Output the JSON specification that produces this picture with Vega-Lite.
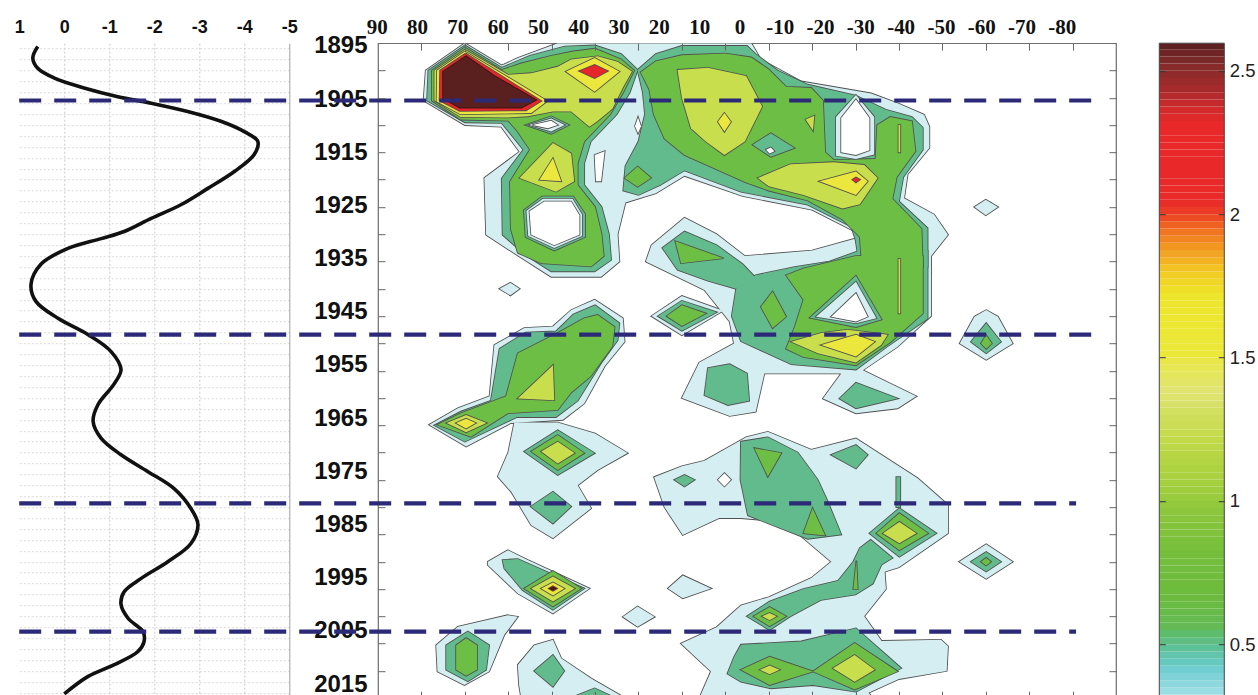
{
"$schema":"https://vega.github.io/schema/vega-lite/v6.json",
"padding":{"left":13.3,"top":15.2,"right":0,"bottom":0},
"config":{"axis":{"labelFont":"Liberation Sans"}},
"datasets":{
"s1":[
{"p":"c1a","lon":70,"yr":1895},{"p":"c1a","lon":61.5,"yr":1899.1},{"p":"c1a","lon":57.8,"yr":1897.7},{"p":"c1a","lon":48.6,"yr":1895},{"p":"c1a","lon":4,"yr":1895},{"p":"c1a","lon":1.8,"yr":1898},{"p":"c1a","lon":-7.5,"yr":1902},{"p":"c1a","lon":-23.6,"yr":1904.2},{"p":"c1a","lon":-29.7,"yr":1906},{"p":"c1a","lon":-35.8,"yr":1908.1},{"p":"c1a","lon":-37,"yr":1910.3},{"p":"c1a","lon":-37,"yr":1914.2},{"p":"c1a","lon":-32,"yr":1919},{"p":"c1a","lon":-31.2,"yr":1923.4},{"p":"c1a","lon":-38.1,"yr":1926.4},{"p":"c1a","lon":-41.3,"yr":1930.1},{"p":"c1a","lon":-37.4,"yr":1934},{"p":"c1a","lon":-37.4,"yr":1937},{"p":"c1a","lon":-25,"yr":1937},{"p":"c1a","lon":-23.6,"yr":1931},{"p":"c1a","lon":-10,"yr":1925.5},{"p":"c1a","lon":6,"yr":1923},{"p":"c1a","lon":19.4,"yr":1919.3},{"p":"c1a","lon":26,"yr":1922.5},{"p":"c1a","lon":33,"yr":1924.2},{"p":"c1a","lon":34.8,"yr":1930},{"p":"c1a","lon":34.4,"yr":1935},{"p":"c1a","lon":38.6,"yr":1937.8},{"p":"c1a","lon":50.1,"yr":1937.8},{"p":"c1a","lon":57.4,"yr":1934.1},{"p":"c1a","lon":65.1,"yr":1930.1},{"p":"c1a","lon":65.5,"yr":1919.7},{"p":"c1a","lon":57.4,"yr":1914.9},{"p":"c1a","lon":61.6,"yr":1910.3},{"p":"c1a","lon":70,"yr":1910},{"p":"c1a","lon":79.5,"yr":1905.5},{"p":"c1a","lon":79,"yr":1900},
{"p":"c1b","lon":28.3,"yr":1935},{"p":"c1b","lon":27,"yr":1932},{"p":"c1b","lon":19.4,"yr":1927},{"p":"c1b","lon":12,"yr":1930},{"p":"c1b","lon":5.5,"yr":1934},{"p":"c1b","lon":-10,"yr":1933},{"p":"c1b","lon":-23.6,"yr":1930},{"p":"c1b","lon":-37.4,"yr":1933},{"p":"c1b","lon":-37.4,"yr":1945},{"p":"c1b","lon":-29.7,"yr":1950.6},{"p":"c1b","lon":-21.7,"yr":1954.9},{"p":"c1b","lon":-34,"yr":1959.7},{"p":"c1b","lon":-29.7,"yr":1961.9},{"p":"c1b","lon":-20.1,"yr":1962.8},{"p":"c1b","lon":-12.5,"yr":1960.1},{"p":"c1b","lon":-16.7,"yr":1955.5},{"p":"c1b","lon":1,"yr":1955.5},{"p":"c1b","lon":3,"yr":1962.5},{"p":"c1b","lon":9,"yr":1963.3},{"p":"c1b","lon":20,"yr":1960},{"p":"c1b","lon":16,"yr":1953.5},{"p":"c1b","lon":8,"yr":1950},{"p":"c1b","lon":9,"yr":1946},{"p":"c1b","lon":14.8,"yr":1940.2},
{"p":"c1c","lon":27,"yr":1945},{"p":"c1c","lon":20,"yr":1941.3},{"p":"c1c","lon":10.5,"yr":1944},{"p":"c1c","lon":20,"yr":1948.5},
{"p":"c1d","lon":62,"yr":1940},{"p":"c1d","lon":59.5,"yr":1938.9},{"p":"c1d","lon":57.4,"yr":1940},{"p":"c1d","lon":59.5,"yr":1941.2},
{"p":"c1e","lon":-47.4,"yr":1925},{"p":"c1e","lon":-50,"yr":1923.7},{"p":"c1e","lon":-52.8,"yr":1925},{"p":"c1e","lon":-50,"yr":1926.5},
{"p":"c2a","lon":40.1,"yr":1942},{"p":"c2a","lon":33.6,"yr":1945.4},{"p":"c2a","lon":33.2,"yr":1949.7},{"p":"c2a","lon":37.8,"yr":1954.2},{"p":"c2a","lon":42.5,"yr":1961},{"p":"c2a","lon":47.4,"yr":1964},{"p":"c2a","lon":59.4,"yr":1964.6},{"p":"c2a","lon":69.7,"yr":1968.9},{"p":"c2a","lon":78.2,"yr":1964.9},{"p":"c2a","lon":71.6,"yr":1961.9},{"p":"c2a","lon":64.3,"yr":1959.7},{"p":"c2a","lon":63.2,"yr":1950.3},{"p":"c2a","lon":56.3,"yr":1947.2},{"p":"c2a","lon":49.7,"yr":1946.9},{"p":"c2a","lon":45.5,"yr":1943.9},
{"p":"c2b","lon":58.6,"yr":1964.5},{"p":"c2b","lon":48.6,"yr":1964.5},{"p":"c2b","lon":40,"yr":1966.5},{"p":"c2b","lon":32.5,"yr":1970.1},{"p":"c2b","lon":39.4,"yr":1973.2},{"p":"c2b","lon":44,"yr":1976},{"p":"c2b","lon":40.9,"yr":1980.2},{"p":"c2b","lon":49.7,"yr":1985.7},{"p":"c2b","lon":54.7,"yr":1983.3},{"p":"c2b","lon":59.3,"yr":1977.2},{"p":"c2b","lon":62.4,"yr":1974.4},{"p":"c2b","lon":60,"yr":1970},
{"p":"c3a","lon":64.7,"yr":1990},{"p":"c3a","lon":60.1,"yr":1987.9},{"p":"c3a","lon":55.5,"yr":1989.7},{"p":"c3a","lon":41.3,"yr":1994.9},{"p":"c3a","lon":49.7,"yr":1999.5},{"p":"c3a","lon":57.8,"yr":1995.8},{"p":"c3a","lon":64.7,"yr":1990.6},
{"p":"c3b","lon":33.6,"yr":2000.1},{"p":"c3b","lon":30.2,"yr":1998.2},{"p":"c3b","lon":26.3,"yr":2000.1},{"p":"c3b","lon":30.2,"yr":2001.9},
{"p":"c3c","lon":23.2,"yr":1994.9},{"p":"c3c","lon":19.8,"yr":1992.5},{"p":"c3c","lon":13.3,"yr":1994.9},{"p":"c3c","lon":19.8,"yr":1996.7},
{"p":"c3d","lon":76.6,"yr":2005.3},{"p":"c3d","lon":71.6,"yr":2001.9},{"p":"c3d","lon":60.1,"yr":1999.8},{"p":"c3d","lon":57.8,"yr":2000.1},{"p":"c3d","lon":60.9,"yr":2003.4},{"p":"c3d","lon":64.4,"yr":2010.1},{"p":"c3d","lon":70.1,"yr":2012.6},{"p":"c3d","lon":76.3,"yr":2010.1},
{"p":"c3e","lon":57.8,"yr":2008.9},{"p":"c3e","lon":54,"yr":2005.3},{"p":"c3e","lon":49.7,"yr":2004.3},{"p":"c3e","lon":47.8,"yr":2007.7},{"p":"c3e","lon":40.9,"yr":2011.4},{"p":"c3e","lon":33,"yr":2015},{"p":"c3e","lon":57,"yr":2015},{"p":"c3e","lon":57.5,"yr":2012.6},
{"p":"c4","lon":26.4,"yr":1974.5},{"p":"c4","lon":20,"yr":1972.5},{"p":"c4","lon":14.8,"yr":1971.5},{"p":"c4","lon":5.2,"yr":1967.2},{"p":"c4","lon":0.2,"yr":1966.2},{"p":"c4","lon":-9.8,"yr":1969.5},{"p":"c4","lon":-20.1,"yr":1967.4},{"p":"c4","lon":-34.3,"yr":1974.7},{"p":"c4","lon":-41.3,"yr":1979.6},{"p":"c4","lon":-41.3,"yr":1984.8},{"p":"c4","lon":-30,"yr":1991},{"p":"c4","lon":-26,"yr":1992},{"p":"c4","lon":-14.4,"yr":1990},{"p":"c4","lon":-3.6,"yr":1982.7},{"p":"c4","lon":6.4,"yr":1982},{"p":"c4","lon":11.4,"yr":1982},{"p":"c4","lon":19.8,"yr":1985.1},{"p":"c4","lon":24,"yr":1980},
{"p":"c5","lon":-14.4,"yr":1990},{"p":"c5","lon":-26.5,"yr":1989.5},{"p":"c5","lon":-27,"yr":1995},{"p":"c5","lon":-22,"yr":2000},{"p":"c5","lon":-26,"yr":2004.5},{"p":"c5","lon":-39.7,"yr":2004.3},{"p":"c5","lon":-41.3,"yr":2005.5},{"p":"c5","lon":-41,"yr":2010},{"p":"c5","lon":-30,"yr":2011.5},{"p":"c5","lon":-23,"yr":2014},{"p":"c5","lon":-24,"yr":2015},{"p":"c5","lon":16,"yr":2015},{"p":"c5","lon":13.3,"yr":2010.1},{"p":"c5","lon":20.2,"yr":2005},{"p":"c5","lon":12,"yr":2002},{"p":"c5","lon":6.4,"yr":1998},{"p":"c5","lon":0,"yr":1996.5},{"p":"c5","lon":-9.8,"yr":1993},
{"p":"c6","lon":-44,"yr":1950},{"p":"c6","lon":-47.4,"yr":1945.1},{"p":"c6","lon":-50.1,"yr":1943.9},{"p":"c6","lon":-52.8,"yr":1945.1},{"p":"c6","lon":-56.2,"yr":1950},{"p":"c6","lon":-50.1,"yr":1953},
{"p":"c7","lon":-43.9,"yr":1990},{"p":"c7","lon":-50.1,"yr":1986.8},{"p":"c7","lon":-56.2,"yr":1990},{"p":"c7","lon":-50.1,"yr":1993.1}
],
"s2":[
{"p":"t1a","lon":70,"yr":1895.4},{"p":"t1a","lon":78.4,"yr":1900},{"p":"t1a","lon":78.7,"yr":1905.5},{"p":"t1a","lon":70,"yr":1909.5},{"p":"t1a","lon":61.5,"yr":1909.6},{"p":"t1a","lon":56.5,"yr":1914.5},{"p":"t1a","lon":61.5,"yr":1919.8},{"p":"t1a","lon":61.3,"yr":1930.1},{"p":"t1a","lon":56,"yr":1933.8},{"p":"t1a","lon":50.1,"yr":1936.8},{"p":"t1a","lon":40.1,"yr":1936.8},{"p":"t1a","lon":36.3,"yr":1934.7},{"p":"t1a","lon":36.8,"yr":1930},{"p":"t1a","lon":38.5,"yr":1925},{"p":"t1a","lon":42.5,"yr":1921},{"p":"t1a","lon":42.5,"yr":1917},{"p":"t1a","lon":41,"yr":1913},{"p":"t1a","lon":35,"yr":1908},{"p":"t1a","lon":32,"yr":1904},{"p":"t1a","lon":30.2,"yr":1899.9},{"p":"t1a","lon":34,"yr":1897},{"p":"t1a","lon":40,"yr":1895.4},{"p":"t1a","lon":47,"yr":1895.6},{"p":"t1a","lon":55,"yr":1897.3},{"p":"t1a","lon":61.5,"yr":1899.5},
{"p":"t1b","lon":30.2,"yr":1899.9},{"p":"t1b","lon":26,"yr":1897},{"p":"t1b","lon":20,"yr":1895.5},{"p":"t1b","lon":5,"yr":1895.5},{"p":"t1b","lon":3,"yr":1897},{"p":"t1b","lon":-2,"yr":1900},{"p":"t1b","lon":-9,"yr":1902.6},{"p":"t1b","lon":-20,"yr":1904.6},{"p":"t1b","lon":-27,"yr":1907.2},{"p":"t1b","lon":-33,"yr":1908.5},{"p":"t1b","lon":-35.5,"yr":1910.5},{"p":"t1b","lon":-35.5,"yr":1914.5},{"p":"t1b","lon":-31,"yr":1919.5},{"p":"t1b","lon":-30,"yr":1924},{"p":"t1b","lon":-36.6,"yr":1928.9},{"p":"t1b","lon":-36.6,"yr":1936},{"p":"t1b","lon":-21,"yr":1936},{"p":"t1b","lon":-20,"yr":1931},{"p":"t1b","lon":-19,"yr":1928.6},{"p":"t1b","lon":-9,"yr":1924.6},{"p":"t1b","lon":6.4,"yr":1922.2},{"p":"t1b","lon":19.4,"yr":1918.3},{"p":"t1b","lon":25,"yr":1921},{"p":"t1b","lon":30,"yr":1922.8},{"p":"t1b","lon":33.5,"yr":1922},{"p":"t1b","lon":33,"yr":1917.5},{"p":"t1b","lon":30,"yr":1913},{"p":"t1b","lon":28.5,"yr":1908},{"p":"t1b","lon":29,"yr":1904},
{"p":"tm","lon":7.5,"yr":1940},{"p":"tm","lon":3,"yr":1937.5},{"p":"tm","lon":-6,"yr":1936},{"p":"tm","lon":-14,"yr":1935},{"p":"tm","lon":-21,"yr":1933},{"p":"tm","lon":-36.6,"yr":1933},{"p":"tm","lon":-36.6,"yr":1945.5},{"p":"tm","lon":-27.4,"yr":1950.5},{"p":"tm","lon":-20.1,"yr":1954.8},{"p":"tm","lon":-5.2,"yr":1953.8},{"p":"tm","lon":6.4,"yr":1949.6},{"p":"tm","lon":8.5,"yr":1945},
{"p":"tlobe","lon":14,"yr":1954.5},{"p":"tlobe","lon":9,"yr":1953.8},{"p":"tlobe","lon":5,"yr":1955.5},{"p":"tlobe","lon":4.5,"yr":1960.5},{"p":"tlobe","lon":9.4,"yr":1961.3},{"p":"tlobe","lon":14.8,"yr":1959.5},
{"p":"tsmall","lon":-16.3,"yr":1960.1},{"p":"tsmall","lon":-20.1,"yr":1957.2},{"p":"tsmall","lon":-29.7,"yr":1960.1},{"p":"tsmall","lon":-20.1,"yr":1961.9},
{"p":"tl","lon":24.5,"yr":1932.5},{"p":"tl","lon":19.4,"yr":1929.5},{"p":"tl","lon":12,"yr":1932},{"p":"tl","lon":6,"yr":1935.5},{"p":"tl","lon":3,"yr":1938},{"p":"tl","lon":7.5,"yr":1940},{"p":"tl","lon":14,"yr":1938.5},{"p":"tl","lon":21,"yr":1936.5},
{"p":"tc1c","lon":25.5,"yr":1945},{"p":"tc1c","lon":20,"yr":1942.2},{"p":"tc1c","lon":12,"yr":1944.3},{"p":"tc1c","lon":20,"yr":1947.7},
{"p":"t2a","lon":40,"yr":1943},{"p":"t2a","lon":34.4,"yr":1946.3},{"p":"t2a","lon":34.8,"yr":1949.4},{"p":"t2a","lon":38.6,"yr":1953.6},{"p":"t2a","lon":44,"yr":1960.5},{"p":"t2a","lon":49,"yr":1963.5},{"p":"t2a","lon":58,"yr":1963.5},{"p":"t2a","lon":70,"yr":1968},{"p":"t2a","lon":77,"yr":1965},{"p":"t2a","lon":70.9,"yr":1962.5},{"p":"t2a","lon":64,"yr":1960.5},{"p":"t2a","lon":62,"yr":1951},{"p":"t2a","lon":56,"yr":1948},{"p":"t2a","lon":49,"yr":1947.8},{"p":"t2a","lon":45,"yr":1944.7},
{"p":"t2d","lon":56.3,"yr":1969.8},{"p":"t2d","lon":48.6,"yr":1965.9},{"p":"t2d","lon":40.1,"yr":1970.1},{"p":"t2d","lon":48.6,"yr":1974.1},
{"p":"t2e","lon":54.8,"yr":1979.9},{"p":"t2e","lon":49.7,"yr":1977.2},{"p":"t2e","lon":45.5,"yr":1979.9},{"p":"t2e","lon":49.7,"yr":1983},
{"p":"t3a","lon":61.3,"yr":1989.7},{"p":"t3a","lon":57.8,"yr":1989.5},{"p":"t3a","lon":42.5,"yr":1994.9},{"p":"t3a","lon":49.7,"yr":1998.8},{"p":"t3a","lon":56.7,"yr":1995.2},{"p":"t3a","lon":60.9,"yr":1991.2},
{"p":"t3d","lon":74.3,"yr":2005.3},{"p":"t3d","lon":69.3,"yr":2002.8},{"p":"t3d","lon":64.4,"yr":2005.3},{"p":"t3d","lon":65.1,"yr":2009.8},{"p":"t3d","lon":69.3,"yr":2011.9},{"p":"t3d","lon":74.3,"yr":2009.8},
{"p":"t3e","lon":54,"yr":2010},{"p":"t3e","lon":49.7,"yr":2007.1},{"p":"t3e","lon":47.1,"yr":2010},{"p":"t3e","lon":49.7,"yr":2012.9},
{"p":"t3f","lon":45.5,"yr":2015},{"p":"t3f","lon":44.8,"yr":2014.7},{"p":"t3f","lon":40.1,"yr":2013.2},{"p":"t3f","lon":36.3,"yr":2014.6},{"p":"t3f","lon":35.5,"yr":2015},
{"p":"t4","lon":6.4,"yr":1968},{"p":"t4","lon":0.2,"yr":1967.2},{"p":"t4","lon":-6.7,"yr":1970},{"p":"t4","lon":-11.3,"yr":1975},{"p":"t4","lon":-13.6,"yr":1979},{"p":"t4","lon":-16.7,"yr":1985},{"p":"t4","lon":-9,"yr":1985.8},{"p":"t4","lon":4.8,"yr":1981.5},{"p":"t4","lon":6.5,"yr":1975},
{"p":"t4b","lon":21.7,"yr":1975},{"p":"t4b","lon":19.4,"yr":1974.1},{"p":"t4b","lon":17.1,"yr":1975},{"p":"t4b","lon":19.4,"yr":1976.2},
{"p":"t4c","lon":-14.4,"yr":1970.4},{"p":"t4c","lon":-20.1,"yr":1968.6},{"p":"t4c","lon":-22.8,"yr":1970.4},{"p":"t4c","lon":-20.1,"yr":1972.9},
{"p":"t4d","lon":-29.4,"yr":1974.5},{"p":"t4d","lon":-30.3,"yr":1974.5},{"p":"t4d","lon":-30.3,"yr":1980},{"p":"t4d","lon":-29.4,"yr":1980},
{"p":"tdia","lon":-23.2,"yr":1984.8},{"p":"tdia","lon":-30.1,"yr":1980.2},{"p":"tdia","lon":-38.6,"yr":1984.8},{"p":"tdia","lon":-30.1,"yr":1989.1},
{"p":"t5a","lon":-23.5,"yr":1986},{"p":"t5a","lon":-28.5,"yr":1989.3},{"p":"t5a","lon":-26,"yr":1990.5},{"p":"t5a","lon":-24,"yr":1994},{"p":"t5a","lon":-20,"yr":1996},{"p":"t5a","lon":-12,"yr":1997},{"p":"t5a","lon":-5,"yr":2000},{"p":"t5a","lon":-0.2,"yr":2002.5},{"p":"t5a","lon":5,"yr":2000},{"p":"t5a","lon":-0.2,"yr":1997.3},{"p":"t5a","lon":-8,"yr":1995},{"p":"t5a","lon":-16,"yr":1993.5},{"p":"t5a","lon":-19.5,"yr":1990},{"p":"t5a","lon":-21,"yr":1987.5},
{"p":"t5c","lon":6.4,"yr":2005.2},{"p":"t5c","lon":-7.5,"yr":2004.6},{"p":"t5c","lon":-20.1,"yr":2002.2},{"p":"t5c","lon":-30.5,"yr":2009.5},{"p":"t5c","lon":-20.1,"yr":2013.8},{"p":"t5c","lon":-10.2,"yr":2012.6},{"p":"t5c","lon":-0.5,"yr":2013.2},{"p":"t5c","lon":6.4,"yr":2012},{"p":"t5c","lon":9.5,"yr":2010.5},{"p":"t5c","lon":8,"yr":2007.5},
{"p":"t6","lon":-46.6,"yr":1949.7},{"p":"t6","lon":-50.1,"yr":1946.3},{"p":"t6","lon":-53.5,"yr":1949.7},{"p":"t6","lon":-50.1,"yr":1951.8},
{"p":"t7","lon":-46.6,"yr":1990},{"p":"t7","lon":-50.1,"yr":1988.2},{"p":"t7","lon":-53.5,"yr":1990},{"p":"t7","lon":-50.1,"yr":1991.8}
],
"s3":[
{"p":"g1a","lon":70,"yr":1895.8},{"p":"g1a","lon":61.5,"yr":1899.9},{"p":"g1a","lon":57,"yr":1898.7},{"p":"g1a","lon":50,"yr":1897.3},{"p":"g1a","lon":45,"yr":1896.5},{"p":"g1a","lon":40,"yr":1896},{"p":"g1a","lon":34,"yr":1898},{"p":"g1a","lon":31,"yr":1900},{"p":"g1a","lon":33.5,"yr":1904},{"p":"g1a","lon":36.5,"yr":1908},{"p":"g1a","lon":42.5,"yr":1913},{"p":"g1a","lon":44,"yr":1917},{"p":"g1a","lon":44,"yr":1921},{"p":"g1a","lon":40,"yr":1925},{"p":"g1a","lon":38.5,"yr":1930},{"p":"g1a","lon":38,"yr":1934},{"p":"g1a","lon":40.9,"yr":1935.9},{"p":"g1a","lon":52.4,"yr":1935.3},{"p":"g1a","lon":57.8,"yr":1933.4},{"p":"g1a","lon":59.4,"yr":1929},{"p":"g1a","lon":59.6,"yr":1920.4},{"p":"g1a","lon":55,"yr":1914.5},{"p":"g1a","lon":58,"yr":1911},{"p":"g1a","lon":60,"yr":1909.2},{"p":"g1a","lon":71,"yr":1909},{"p":"g1a","lon":77.6,"yr":1905.5},{"p":"g1a","lon":77.6,"yr":1900},
{"p":"g1b","lon":29.5,"yr":1900.3},{"p":"g1b","lon":26,"yr":1898.3},{"p":"g1b","lon":20,"yr":1897.2},{"p":"g1b","lon":10,"yr":1896.9},{"p":"g1b","lon":4,"yr":1897.6},{"p":"g1b","lon":0,"yr":1899.8},{"p":"g1b","lon":-4,"yr":1903},{"p":"g1b","lon":-9.8,"yr":1903.2},{"p":"g1b","lon":-12.5,"yr":1905.5},{"p":"g1b","lon":-13,"yr":1915},{"p":"g1b","lon":-15,"yr":1916.4},{"p":"g1b","lon":-24.6,"yr":1916.2},{"p":"g1b","lon":-25,"yr":1910},{"p":"g1b","lon":-28,"yr":1908.5},{"p":"g1b","lon":-33,"yr":1909.3},{"p":"g1b","lon":-33.8,"yr":1914.8},{"p":"g1b","lon":-29.5,"yr":1919.5},{"p":"g1b","lon":-28.5,"yr":1923.5},{"p":"g1b","lon":-35.2,"yr":1929},{"p":"g1b","lon":-35.5,"yr":1936},{"p":"g1b","lon":-21.5,"yr":1936},{"p":"g1b","lon":-21,"yr":1930.5},{"p":"g1b","lon":-17,"yr":1927.3},{"p":"g1b","lon":-9,"yr":1923.8},{"p":"g1b","lon":0,"yr":1922},{"p":"g1b","lon":5.2,"yr":1920.5},{"p":"g1b","lon":19.4,"yr":1915.5},{"p":"g1b","lon":24,"yr":1912.5},{"p":"g1b","lon":26.5,"yr":1908},{"p":"g1b","lon":27.5,"yr":1903.5},
{"p":"gsd","lon":33.2,"yr":1919.7},{"p":"gsd","lon":30.2,"yr":1917.6},{"p":"gsd","lon":27.1,"yr":1919.7},{"p":"gsd","lon":30.2,"yr":1921.3},
{"p":"gm","lon":-4,"yr":1937.5},{"p":"gm","lon":-8,"yr":1936.3},{"p":"gm","lon":-20,"yr":1934},{"p":"gm","lon":-35.5,"yr":1934},{"p":"gm","lon":-35.5,"yr":1944.5},{"p":"gm","lon":-28,"yr":1949.8},{"p":"gm","lon":-20.1,"yr":1954},{"p":"gm","lon":-8,"yr":1952.5},{"p":"gm","lon":-4,"yr":1951},{"p":"gm","lon":-6,"yr":1947},{"p":"gm","lon":-8,"yr":1942},
{"p":"gtri","lon":1.8,"yr":1943.3},{"p":"gtri","lon":-0.9,"yr":1940.5},{"p":"gtri","lon":-4,"yr":1945.1},{"p":"gtri","lon":-0.9,"yr":1947.2},
{"p":"gl","lon":21.5,"yr":1931.3},{"p":"gl","lon":10.4,"yr":1934.4},{"p":"gl","lon":20.2,"yr":1935.3},
{"p":"gc1c","lon":23.5,"yr":1945},{"p":"gc1c","lon":20,"yr":1943},{"p":"gc1c","lon":14.5,"yr":1944.5},{"p":"gc1c","lon":20,"yr":1946.8},
{"p":"g2a","lon":39.4,"yr":1944.8},{"p":"g2a","lon":35.5,"yr":1947},{"p":"g2a","lon":36,"yr":1950.5},{"p":"g2a","lon":41,"yr":1956},{"p":"g2a","lon":45.5,"yr":1959},{"p":"g2a","lon":48.6,"yr":1962.2},{"p":"g2a","lon":60.1,"yr":1962.8},{"p":"g2a","lon":68.6,"yr":1967.1},{"p":"g2a","lon":76.3,"yr":1964.9},{"p":"g2a","lon":70.9,"yr":1962.8},{"p":"g2a","lon":60.5,"yr":1959.7},{"p":"g2a","lon":57.8,"yr":1951.8},{"p":"g2a","lon":48.6,"yr":1948.1},{"p":"g2a","lon":42.5,"yr":1945.4},
{"p":"g2d","lon":54.7,"yr":1969.8},{"p":"g2d","lon":48.6,"yr":1966.8},{"p":"g2d","lon":42.5,"yr":1970.1},{"p":"g2d","lon":48.6,"yr":1973.2},
{"p":"g3a","lon":56.3,"yr":1994.9},{"p":"g3a","lon":49.7,"yr":1991.7},{"p":"g3a","lon":43.2,"yr":1994.9},{"p":"g3a","lon":49.7,"yr":1998.2},
{"p":"g3d","lon":72,"yr":2005.3},{"p":"g3d","lon":69.7,"yr":2004},{"p":"g3d","lon":67.2,"yr":2005.3},{"p":"g3d","lon":67.2,"yr":2009.8},{"p":"g3d","lon":69.7,"yr":2010.9},{"p":"g3d","lon":72,"yr":2009.8},
{"p":"g4a","lon":3.3,"yr":1969.2},{"p":"g4a","lon":-2.9,"yr":1970.1},{"p":"g4a","lon":0.2,"yr":1974.4},
{"p":"g4b","lon":-10.1,"yr":1980.2},{"p":"g4b","lon":-8,"yr":1984.8},{"p":"g4b","lon":-13,"yr":1985.2},
{"p":"g5","lon":-19.5,"yr":1995},{"p":"g5","lon":-20.5,"yr":1995},{"p":"g5","lon":-20.2,"yr":1989.8},
{"p":"gd0","lon":3.5,"yr":2000},{"p":"gd0","lon":-0.2,"yr":1998.3},{"p":"gd0","lon":-4,"yr":2000},{"p":"gd0","lon":-0.2,"yr":2001.8},
{"p":"gd10","lon":6.4,"yr":2009.8},{"p":"gd10","lon":-0.2,"yr":2007.4},{"p":"gd10","lon":-10.2,"yr":2010.1},{"p":"gd10","lon":-0.2,"yr":2012.6},
{"p":"gd20","lon":-10.2,"yr":2010.1},{"p":"gd20","lon":-19.8,"yr":2004.9},{"p":"gd20","lon":-29.7,"yr":2010.1},{"p":"gd20","lon":-19.8,"yr":2013.4},
{"p":"gd30","lon":-24.8,"yr":1984.8},{"p":"gd30","lon":-30.1,"yr":1981.1},{"p":"gd30","lon":-36.7,"yr":1984.8},{"p":"gd30","lon":-30.1,"yr":1987.9},
{"p":"g6","lon":-48.9,"yr":1950},{"p":"g6","lon":-50.1,"yr":1948.5},{"p":"g6","lon":-51.4,"yr":1950},{"p":"g6","lon":-50.1,"yr":1951},
{"p":"g7","lon":-48.9,"yr":1990},{"p":"g7","lon":-50.1,"yr":1989.3},{"p":"g7","lon":-51.2,"yr":1990},{"p":"g7","lon":-50.1,"yr":1990.7}
],
"s4":[
{"p":"y1a","lon":70,"yr":1896.2},{"p":"y1a","lon":60,"yr":1900.8},{"p":"y1a","lon":54.7,"yr":1900.5},{"p":"y1a","lon":48.6,"yr":1899.3},{"p":"y1a","lon":45.5,"yr":1898},{"p":"y1a","lon":39.4,"yr":1897.4},{"p":"y1a","lon":34.8,"yr":1898.4},{"p":"y1a","lon":31.5,"yr":1900.2},{"p":"y1a","lon":33.5,"yr":1903},{"p":"y1a","lon":36,"yr":1907},{"p":"y1a","lon":39.5,"yr":1909.3},{"p":"y1a","lon":41.3,"yr":1910.3},{"p":"y1a","lon":45.5,"yr":1907.5},{"p":"y1a","lon":49.7,"yr":1907.5},{"p":"y1a","lon":55.5,"yr":1908.4},{"p":"y1a","lon":60,"yr":1908.6},{"p":"y1a","lon":71,"yr":1908.5},{"p":"y1a","lon":77,"yr":1905.5},{"p":"y1a","lon":77,"yr":1900},
{"p":"yarm","lon":57.4,"yr":1919.7},{"p":"yarm","lon":49.7,"yr":1913.3},{"p":"yarm","lon":45.5,"yr":1915.2},{"p":"yarm","lon":44.8,"yr":1920.3},{"p":"yarm","lon":49,"yr":1922.2},
{"p":"y1b","lon":21,"yr":1899.9},{"p":"y1b","lon":14,"yr":1899.5},{"p":"y1b","lon":5.2,"yr":1901},{"p":"y1b","lon":1.5,"yr":1906.6},{"p":"y1b","lon":5.5,"yr":1913},{"p":"y1b","lon":10.2,"yr":1915.5},{"p":"y1b","lon":14.5,"yr":1913},{"p":"y1b","lon":17.9,"yr":1910.6},{"p":"y1b","lon":20,"yr":1905},
{"p":"ysm","lon":-8.5,"yr":1909},{"p":"ysm","lon":-10.5,"yr":1908.3},{"p":"ysm","lon":-10.2,"yr":1911},
{"p":"y1c","lon":2.5,"yr":1919.7},{"p":"y1c","lon":-5,"yr":1917.2},{"p":"y1c","lon":-15,"yr":1916.8},{"p":"y1c","lon":-22,"yr":1917.3},{"p":"y1c","lon":-25.1,"yr":1919.7},{"p":"y1c","lon":-21,"yr":1924.5},{"p":"y1c","lon":-17,"yr":1925.3},{"p":"y1c","lon":-8,"yr":1922.8},{"p":"y1c","lon":0,"yr":1921.2},
{"p":"yl1","lon":-29.9,"yr":1910},{"p":"yl1","lon":-30.3,"yr":1910},{"p":"yl1","lon":-30.3,"yr":1915},{"p":"yl1","lon":-29.9,"yr":1915},
{"p":"yl2","lon":-29.9,"yr":1934.5},{"p":"yl2","lon":-30.3,"yr":1934.5},{"p":"yl2","lon":-30.3,"yr":1944.5},{"p":"yl2","lon":-29.9,"yr":1944.5},
{"p":"y2tri","lon":49.7,"yr":1954},{"p":"y2tri","lon":57.8,"yr":1960.1},{"p":"y2tri","lon":49.4,"yr":1960.4},
{"p":"y2tip","lon":74.2,"yr":1964.6},{"p":"y2tip","lon":69.7,"yr":1963.1},{"p":"y2tip","lon":65,"yr":1964.6},{"p":"y2tip","lon":69.7,"yr":1966.3},
{"p":"y2d","lon":52.4,"yr":1969.8},{"p":"y2d","lon":48.6,"yr":1968},{"p":"y2d","lon":44.7,"yr":1970.1},{"p":"y2d","lon":48.6,"yr":1972},
{"p":"y3a","lon":54.7,"yr":1994.9},{"p":"y3a","lon":49.7,"yr":1992.7},{"p":"y3a","lon":44.7,"yr":1994.9},{"p":"y3a","lon":49.7,"yr":1997.3},
{"p":"ymid","lon":-5.2,"yr":1949.7},{"p":"ymid","lon":-12.1,"yr":1948.1},{"p":"ymid","lon":-18.2,"yr":1947.5},{"p":"ymid","lon":-27.4,"yr":1948.4},{"p":"ymid","lon":-25.9,"yr":1950.3},{"p":"ymid","lon":-20.1,"yr":1953.5},{"p":"ymid","lon":-11.3,"yr":1951.8},
{"p":"yd0","lon":1.5,"yr":2000},{"p":"yd0","lon":-0.2,"yr":1999.4},{"p":"yd0","lon":-1.8,"yr":2000},{"p":"yd0","lon":-0.2,"yr":2000.7},
{"p":"yd10","lon":2,"yr":2009.8},{"p":"yd10","lon":-0.2,"yr":2009},{"p":"yd10","lon":-2.5,"yr":2009.8},{"p":"yd10","lon":-0.2,"yr":2010.6},
{"p":"yd20","lon":-14.8,"yr":2009.5},{"p":"yd20","lon":-19.8,"yr":2007.1},{"p":"yd20","lon":-24.4,"yr":2009.8},{"p":"yd20","lon":-19.8,"yr":2012},
{"p":"yd30","lon":-26.3,"yr":1984.8},{"p":"yd30","lon":-30.1,"yr":1982.7},{"p":"yd30","lon":-34,"yr":1984.8},{"p":"yd30","lon":-30.1,"yr":1986.6}
],
"s5":[
{"p":"b5","lon":70,"yr":1896.5},{"p":"b5","lon":76.4,"yr":1900},{"p":"b5","lon":76.5,"yr":1905.7},{"p":"b5","lon":71,"yr":1908},{"p":"b5","lon":54.7,"yr":1907.8},{"p":"b5","lon":51,"yr":1905.6},{"p":"b5","lon":62,"yr":1900.3},
{"p":"d5","lon":46.7,"yr":1900.2},{"p":"d5","lon":40.1,"yr":1897.7},{"p":"d5","lon":34.4,"yr":1900.2},{"p":"d5","lon":40.1,"yr":1903.9},
{"p":"a5","lon":52.8,"yr":1920},{"p":"a5","lon":49.7,"yr":1916.1},{"p":"a5","lon":47.8,"yr":1920.3},
{"p":"e5","lon":10.2,"yr":1907.8},{"p":"e5","lon":11.7,"yr":1909.4},{"p":"e5","lon":10.2,"yr":1911.2},{"p":"e5","lon":8.7,"yr":1909.4},
{"p":"f5","lon":-11.7,"yr":1920.3},{"p":"f5","lon":-20.1,"yr":1918.5},{"p":"f5","lon":-22.8,"yr":1920.3},{"p":"f5","lon":-20.1,"yr":1922.8},
{"p":"m5","lon":-12.1,"yr":1950.3},{"p":"m5","lon":-20.1,"yr":1948.4},{"p":"m5","lon":-24.4,"yr":1949.7},{"p":"m5","lon":-20.1,"yr":1952.4},
{"p":"n5","lon":-16.7,"yr":1950.1},{"p":"n5","lon":-20.1,"yr":1949.4},{"p":"n5","lon":-21.7,"yr":1950.3},{"p":"n5","lon":-19.8,"yr":1951.1},
{"p":"t5","lon":72,"yr":1964.6},{"p":"t5","lon":69.7,"yr":1963.8},{"p":"t5","lon":67.5,"yr":1964.6},{"p":"t5","lon":69.7,"yr":1965.6},
{"p":"q5","lon":52.4,"yr":1994.9},{"p":"q5","lon":49.7,"yr":1993.8},{"p":"q5","lon":47.1,"yr":1994.9},{"p":"q5","lon":49.7,"yr":1996.2}
],
"s7":[
{"p":"rb","lon":69.8,"yr":1896.9},{"p":"rb","lon":75.7,"yr":1900},{"p":"rb","lon":75.8,"yr":1905.5},{"p":"rb","lon":71.2,"yr":1907.4},{"p":"rb","lon":55.9,"yr":1907.3},{"p":"rb","lon":52.4,"yr":1905.6},{"p":"rb","lon":62.4,"yr":1900.6},
{"p":"rd","lon":43.6,"yr":1900.1},{"p":"rd","lon":40.1,"yr":1899},{"p":"rd","lon":37.1,"yr":1900.1},{"p":"rd","lon":40.1,"yr":1901.4},
{"p":"rt","lon":-19.3,"yr":1920},{"p":"rt","lon":-20.1,"yr":1919.6},{"p":"rt","lon":-21,"yr":1920},{"p":"rt","lon":-20.1,"yr":1920.5},
{"p":"rq","lon":50.6,"yr":1994.9},{"p":"rq","lon":49.7,"yr":1994.5},{"p":"rq","lon":48.8,"yr":1994.9},{"p":"rq","lon":49.7,"yr":1995.3}
],
"s8":[
{"p":"mb","lon":69.7,"yr":1897.4},{"p":"mb","lon":75,"yr":1900.2},{"p":"mb","lon":75,"yr":1905.1},{"p":"mb","lon":71.2,"yr":1906.8},{"p":"mb","lon":57,"yr":1906.8},{"p":"mb","lon":53.6,"yr":1905.4},{"p":"mb","lon":63.2,"yr":1901},
{"p":"mq","lon":50.2,"yr":1994.9},{"p":"mq","lon":49.7,"yr":1994.7},{"p":"mq","lon":49.2,"yr":1994.9},{"p":"mq","lon":49.7,"yr":1995.1}
],
"s9":[
{"p":"h9a","lon":56,"yr":1910},{"p":"h9a","lon":50.1,"yr":1908.4},{"p":"h9a","lon":46,"yr":1910},{"p":"h9a","lon":50.1,"yr":1911.6},
{"p":"h9b","lon":3.7,"yr":1913.6},{"p":"h9b","lon":-0.5,"yr":1911.5},{"p":"h9b","lon":-5.9,"yr":1914.2},{"p":"h9b","lon":-0.5,"yr":1915.8},
{"p":"h9d","lon":-9.5,"yr":1945.3},{"p":"h9d","lon":-20.1,"yr":1937.6},{"p":"h9d","lon":-26,"yr":1945.6},{"p":"h9d","lon":-20.1,"yr":1947},
{"p":"h9e","lon":56.4,"yr":1925.6},{"p":"h9e","lon":52.2,"yr":1923.1},{"p":"h9e","lon":45,"yr":1923.1},{"p":"h9e","lon":42.3,"yr":1926.3},{"p":"h9e","lon":42.3,"yr":1930.5},{"p":"h9e","lon":49.4,"yr":1933},{"p":"h9e","lon":56,"yr":1930.5}
],
"s10":[
{"p":"h10a","lon":55.2,"yr":1910},{"p":"h10a","lon":50.1,"yr":1908.8},{"p":"h10a","lon":47,"yr":1910},{"p":"h10a","lon":50.1,"yr":1911.2},
{"p":"h10b","lon":55.8,"yr":1925.7},{"p":"h10b","lon":52,"yr":1923.5},{"p":"h10b","lon":45.2,"yr":1923.5},{"p":"h10b","lon":43,"yr":1926.4},{"p":"h10b","lon":43,"yr":1930.3},{"p":"h10b","lon":49.4,"yr":1932.5},{"p":"h10b","lon":55.4,"yr":1930.3},
{"p":"h10c","lon":-15.5,"yr":1915.6},{"p":"h10c","lon":-15.5,"yr":1908.5},{"p":"h10c","lon":-20.1,"yr":1904.5},{"p":"h10c","lon":-24.3,"yr":1908.5},{"p":"h10c","lon":-24.3,"yr":1915.4},{"p":"h10c","lon":-20.1,"yr":1916.2},
{"p":"h10d","lon":-10.9,"yr":1945.1},{"p":"h10d","lon":-20.1,"yr":1938.7},{"p":"h10d","lon":-24.8,"yr":1945.4},{"p":"h10d","lon":-20.1,"yr":1946.3}
],
"s11":[
{"p":"w1","lon":54.4,"yr":1910},{"p":"w1","lon":50.1,"yr":1909.2},{"p":"w1","lon":48.6,"yr":1910},{"p":"w1","lon":50.9,"yr":1910.6},
{"p":"w2","lon":55.1,"yr":1925.8},{"p":"w2","lon":51.7,"yr":1924},{"p":"w2","lon":45.5,"yr":1924},{"p":"w2","lon":43.6,"yr":1926.5},{"p":"w2","lon":43.6,"yr":1930.1},{"p":"w2","lon":49.4,"yr":1932},{"p":"w2","lon":54.7,"yr":1930.1},
{"p":"w3","lon":40.1,"yr":1915.5},{"p":"w3","lon":37.8,"yr":1914.8},{"p":"w3","lon":38.6,"yr":1920.3},{"p":"w3","lon":39.8,"yr":1920.3},
{"p":"w4","lon":30.8,"yr":1910.2},{"p":"w4","lon":30.1,"yr":1908.6},{"p":"w4","lon":29.4,"yr":1910.2},{"p":"w4","lon":30.1,"yr":1911.5},
{"p":"w5","lon":-16.7,"yr":1915},{"p":"w5","lon":-16.7,"yr":1908.7},{"p":"w5","lon":-20.1,"yr":1905.3},{"p":"w5","lon":-23.2,"yr":1908.7},{"p":"w5","lon":-23.2,"yr":1914.6},{"p":"w5","lon":-20.1,"yr":1915.5},
{"p":"w6","lon":-14.4,"yr":1945.1},{"p":"w6","lon":-20.1,"yr":1940.8},{"p":"w6","lon":-22.8,"yr":1945.1},{"p":"w6","lon":-20.1,"yr":1946},
{"p":"w7","lon":0.6,"yr":1914.5},{"p":"w7","lon":-0.5,"yr":1914.1},{"p":"w7","lon":-1.3,"yr":1914.8},{"p":"w7","lon":-0.2,"yr":1915.2},
{"p":"w8","lon":11.7,"yr":1975},{"p":"w8","lon":10.2,"yr":1973.8},{"p":"w8","lon":8.7,"yr":1975},{"p":"w8","lon":10.2,"yr":1976.2}
],
"cbar":[
{"lo":0,"hi":0.025},{"lo":0.025,"hi":0.05},{"lo":0.05,"hi":0.075},{"lo":0.075,"hi":0.1},{"lo":0.1,"hi":0.125},{"lo":0.125,"hi":0.15},{"lo":0.15,"hi":0.175},{"lo":0.175,"hi":0.2},{"lo":0.2,"hi":0.225},{"lo":0.225,"hi":0.25},{"lo":0.25,"hi":0.275},{"lo":0.275,"hi":0.3},{"lo":0.3,"hi":0.325},{"lo":0.325,"hi":0.35},{"lo":0.35,"hi":0.375},{"lo":0.375,"hi":0.4},{"lo":0.4,"hi":0.425},{"lo":0.425,"hi":0.45},{"lo":0.45,"hi":0.475},{"lo":0.475,"hi":0.5},{"lo":0.5,"hi":0.525},{"lo":0.525,"hi":0.55},{"lo":0.55,"hi":0.575},{"lo":0.575,"hi":0.6},{"lo":0.6,"hi":0.625},{"lo":0.625,"hi":0.65},{"lo":0.65,"hi":0.675},{"lo":0.675,"hi":0.7},{"lo":0.7,"hi":0.725},{"lo":0.725,"hi":0.75},{"lo":0.75,"hi":0.775},{"lo":0.775,"hi":0.8},{"lo":0.8,"hi":0.825},{"lo":0.825,"hi":0.85},{"lo":0.85,"hi":0.875},{"lo":0.875,"hi":0.9},{"lo":0.9,"hi":0.925},{"lo":0.925,"hi":0.95},{"lo":0.95,"hi":0.975},{"lo":0.975,"hi":1},{"lo":1,"hi":1.025},{"lo":1.025,"hi":1.05},{"lo":1.05,"hi":1.075},{"lo":1.075,"hi":1.1},{"lo":1.1,"hi":1.125},{"lo":1.125,"hi":1.15},{"lo":1.15,"hi":1.175},{"lo":1.175,"hi":1.2},{"lo":1.2,"hi":1.225},{"lo":1.225,"hi":1.25},{"lo":1.25,"hi":1.275},{"lo":1.275,"hi":1.3},{"lo":1.3,"hi":1.325},{"lo":1.325,"hi":1.35},{"lo":1.35,"hi":1.375},{"lo":1.375,"hi":1.4},{"lo":1.4,"hi":1.425},{"lo":1.425,"hi":1.45},{"lo":1.45,"hi":1.475},{"lo":1.475,"hi":1.5},{"lo":1.5,"hi":1.525},{"lo":1.525,"hi":1.55},{"lo":1.55,"hi":1.575},{"lo":1.575,"hi":1.6},{"lo":1.6,"hi":1.625},{"lo":1.625,"hi":1.65},{"lo":1.65,"hi":1.675},{"lo":1.675,"hi":1.7},{"lo":1.7,"hi":1.725},{"lo":1.725,"hi":1.75},{"lo":1.75,"hi":1.775},{"lo":1.775,"hi":1.8},{"lo":1.8,"hi":1.825},{"lo":1.825,"hi":1.85},{"lo":1.85,"hi":1.875},{"lo":1.875,"hi":1.9},{"lo":1.9,"hi":1.925},{"lo":1.925,"hi":1.95},{"lo":1.95,"hi":1.975},{"lo":1.975,"hi":2},{"lo":2,"hi":2.025},{"lo":2.025,"hi":2.05},{"lo":2.05,"hi":2.075},{"lo":2.075,"hi":2.1},{"lo":2.1,"hi":2.125},{"lo":2.125,"hi":2.15},{"lo":2.15,"hi":2.175},{"lo":2.175,"hi":2.2},{"lo":2.2,"hi":2.225},{"lo":2.225,"hi":2.25},{"lo":2.25,"hi":2.275},{"lo":2.275,"hi":2.3},{"lo":2.3,"hi":2.325},{"lo":2.325,"hi":2.35},{"lo":2.35,"hi":2.375},{"lo":2.375,"hi":2.4},{"lo":2.4,"hi":2.425},{"lo":2.425,"hi":2.45},{"lo":2.45,"hi":2.475},{"lo":2.475,"hi":2.5},{"lo":2.5,"hi":2.525},{"lo":2.525,"hi":2.55},{"lo":2.55,"hi":2.575},{"lo":2.575,"hi":2.596}
]
},
"bounds":"flush",
"spacing":88.7,
"hconcat":[
{
"width":270,"height":655,
"view":{"stroke":null},
"data":{"values":[
{"v":0.59,"yr":1895.6},{"v":0.7,"yr":1897.7},{"v":0.59,"yr":1899.6},{"v":0.22,"yr":1901.4},{"v":-0.44,"yr":1903.2},{"v":-1.19,"yr":1904.8},{"v":-1.93,"yr":1906},{"v":-2.74,"yr":1907.5},{"v":-3.48,"yr":1909.3},{"v":-4,"yr":1911.2},{"v":-4.3,"yr":1913},{"v":-4.22,"yr":1915.4},{"v":-3.78,"yr":1918.5},{"v":-3.19,"yr":1921.6},{"v":-2.59,"yr":1924.6},{"v":-1.93,"yr":1927.1},{"v":-1.33,"yr":1929.5},{"v":-0.82,"yr":1930.8},{"v":-0.08,"yr":1932.6},{"v":0.52,"yr":1935.5},{"v":0.74,"yr":1939.2},{"v":0.63,"yr":1942.3},{"v":0.14,"yr":1945.4},{"v":-0.53,"yr":1948.4},{"v":-1.04,"yr":1951.5},{"v":-1.26,"yr":1954.8},{"v":-1.1,"yr":1957.5},{"v":-0.75,"yr":1961.2},{"v":-0.64,"yr":1964.3},{"v":-0.82,"yr":1967.4},{"v":-1.26,"yr":1970.4},{"v":-1.86,"yr":1973.5},{"v":-2.44,"yr":1976.6},{"v":-2.81,"yr":1980.2},{"v":-2.97,"yr":1983.2},{"v":-2.81,"yr":1986.7},{"v":-2.3,"yr":1990},{"v":-1.7,"yr":1993.1},{"v":-1.33,"yr":1995.5},{"v":-1.26,"yr":1997.8},{"v":-1.42,"yr":2000.4},{"v":-1.75,"yr":2002.8},{"v":-1.77,"yr":2004.7},{"v":-1.63,"yr":2006.5},{"v":-1.1,"yr":2008.9},{"v":-0.53,"yr":2011},{"v":0,"yr":2014.2}
]},
"mark":{"type":"line","color":"#111111","strokeWidth":3.6,"interpolate":"catmull-rom"},
"encoding":{
"x":{"field":"v","type":"quantitative","scale":{"domain":[1,-5],"nice":false,"zero":false},
"axis":{"orient":"top","values":[1,0,-1,-2,-3,-4,-5],"labelExpr":"'' + datum.value","ticks":false,"domain":false,"grid":true,"gridDash":[2,2],"gridColor":"#bdbdbd","gridWidth":0.8,"gridOpacity":{"condition":{"test":"datum.value == 1 || datum.value == -5","value":0},"value":1},"labelFont":"Liberation Sans","labelFontWeight":"bold","labelFontSize":18,"labelColor":"#111111","labelPadding":6.6,"labelFlush":false,"labelOverlap":false,"title":null}},
"y":{"field":"yr","type":"quantitative","scale":{"domain":[1895,2015],"nice":false,"zero":false,"reverse":true},
"axis":{"orient":"right","values":[1896,1898,1900,1902,1904,1906,1908,1910,1912,1914,1916,1918,1920,1922,1924,1926,1928,1930,1932,1934,1936,1938,1940,1942,1944,1946,1948,1950,1952,1954,1956,1958,1960,1962,1964,1966,1968,1970,1972,1974,1976,1978,1980,1982,1984,1986,1988,1990,1992,1994,1996,1998,2000,2002,2004,2006,2008,2010,2012,2014],"labels":false,"ticks":false,"domain":true,"domainColor":"#a0a0a0","domainWidth":1,"grid":true,"gridDash":[2,2],"gridColor":"#cfcfcf","gridWidth":0.8,"title":null}},
"order":{"value":null}
}
},
{
"width":738,"height":655,
"view":{"stroke":"#6e6e6e","strokeWidth":1.2},
"resolve":{"scale":{"x":"independent","y":"independent"},"axis":{"x":"independent","y":"independent"}},
"layer":[
{"data":{"values":[{"lon":90,"yr":1895},{"lon":-80,"yr":2015}]},
"mark":{"type":"point","opacity":0},
"encoding":{
"x":{"field":"lon","type":"quantitative","scale":{"domain":[90.01,-93.12],"nice":false,"zero":false},"axis":{"orient":"top","values":[90,80,70,60,50,40,30,20,10,0,-10,-20,-30,-40,-50,-60,-70,-80],"labelExpr":"'' + datum.value","labelOffset":-1.3,"ticks":false,"domain":false,"grid":false,"labelFont":"Liberation Serif","labelFontWeight":"bold","labelFontSize":21,"labelColor":"#111111","labelPadding":5.5,"labelFlush":false,"labelOverlap":false,"title":null}},
"y":{"field":"yr","type":"quantitative","scale":{"domain":[1894.21,2017.38],"nice":false,"zero":false,"reverse":true},"axis":{"orient":"left","values":[1895,1905,1915,1925,1935,1945,1955,1965,1975,1985,1995,2005,2015],"labelExpr":"'' + datum.value","labelOffset":-1.5,"ticks":false,"domain":false,"grid":false,"labelFont":"Liberation Sans","labelFontWeight":"bold","labelFontSize":24,"labelColor":"#111111","labelPadding":11,"labelFlush":false,"labelOverlap":false,"title":null}}
}},
{"data":{"name":"s1"},"mark":{"type":"line","interpolate":"linear-closed","color":"#505050","strokeWidth":1.7,"clip":true},
"encoding":{"x":{"field":"lon","type":"quantitative","scale":{"domain":[90,-80],"nice":false,"zero":false},"axis":{"orient":"top","values":[80,70,60,50,40,30,20,10,0,-10,-20,-30,-40,-50,-60,-70],"labels":false,"tickSize":-7,"tickColor":"#666666","tickWidth":1,"domain":false,"grid":false,"title":null,"zindex":1}},"y":{"field":"yr","type":"quantitative","scale":{"domain":[1895,2015],"nice":false,"zero":false,"reverse":true},"axis":null},"detail":{"field":"p"},"order":{"value":null}}},
{"data":{"name":"s1"},"mark":{"type":"line","interpolate":"linear-closed","filled":true,"color":"#d5eef1","strokeWidth":0,"clip":true},
"encoding":{"x":{"field":"lon","type":"quantitative","scale":{"domain":[90,-80],"nice":false,"zero":false},"axis":{"orient":"bottom","values":[80,70,60,50,40,30,20,10,0,-10,-20,-30,-40,-50,-60,-70],"labels":false,"tickSize":-7,"tickColor":"#666666","tickWidth":1,"domain":false,"grid":false,"title":null,"zindex":1}},"y":{"field":"yr","type":"quantitative","scale":{"domain":[1895,2015],"nice":false,"zero":false,"reverse":true},"axis":null},"detail":{"field":"p"},"order":{"value":null}}},
{"data":{"name":"s2"},"mark":{"type":"line","interpolate":"linear-closed","color":"#505050","strokeWidth":1.7,"clip":true},
"encoding":{"x":{"field":"lon","type":"quantitative","scale":{"domain":[90,-80],"nice":false,"zero":false},"axis":null},"y":{"field":"yr","type":"quantitative","scale":{"domain":[1895,2015],"nice":false,"zero":false,"reverse":true},"axis":{"orient":"left","values":[1900,1905,1910,1915,1920,1925,1930,1935,1940,1945,1950,1955,1960,1965,1970,1975,1980,1985,1990,1995,2000,2005,2010],"labels":false,"tickSize":-7,"tickColor":"#666666","tickWidth":1,"domain":false,"grid":false,"title":null,"zindex":1}},"detail":{"field":"p"},"order":{"value":null}}},
{"data":{"name":"s2"},"mark":{"type":"line","interpolate":"linear-closed","filled":true,"color":"#62bb8c","strokeWidth":0,"clip":true},
"encoding":{"x":{"field":"lon","type":"quantitative","scale":{"domain":[90,-80],"nice":false,"zero":false},"axis":null},"y":{"field":"yr","type":"quantitative","scale":{"domain":[1895,2015],"nice":false,"zero":false,"reverse":true},"axis":{"orient":"right","values":[1900,1905,1910,1915,1920,1925,1930,1935,1940,1945,1950,1955,1960,1965,1970,1975,1980,1985,1990,1995,2000,2005,2010],"labels":false,"tickSize":-7,"tickColor":"#666666","tickWidth":1,"domain":false,"grid":false,"title":null,"zindex":1}},"detail":{"field":"p"},"order":{"value":null}}},
{"data":{"name":"s3"},"mark":{"type":"line","interpolate":"linear-closed","color":"#505050","strokeWidth":1.7,"clip":true},
"encoding":{"x":{"field":"lon","type":"quantitative","scale":{"domain":[90,-80],"nice":false,"zero":false},"axis":null},"y":{"field":"yr","type":"quantitative","scale":{"domain":[1895,2015],"nice":false,"zero":false,"reverse":true},"axis":null},"detail":{"field":"p"},"order":{"value":null}}},
{"data":{"name":"s3"},"mark":{"type":"line","interpolate":"linear-closed","filled":true,"color":"#6dbe45","strokeWidth":0,"clip":true},
"encoding":{"x":{"field":"lon","type":"quantitative","scale":{"domain":[90,-80],"nice":false,"zero":false},"axis":null},"y":{"field":"yr","type":"quantitative","scale":{"domain":[1895,2015],"nice":false,"zero":false,"reverse":true},"axis":null},"detail":{"field":"p"},"order":{"value":null}}},
{"data":{"name":"s4"},"mark":{"type":"line","interpolate":"linear-closed","color":"#505050","strokeWidth":1.7,"clip":true},
"encoding":{"x":{"field":"lon","type":"quantitative","scale":{"domain":[90,-80],"nice":false,"zero":false},"axis":null},"y":{"field":"yr","type":"quantitative","scale":{"domain":[1895,2015],"nice":false,"zero":false,"reverse":true},"axis":null},"detail":{"field":"p"},"order":{"value":null}}},
{"data":{"name":"s4"},"mark":{"type":"line","interpolate":"linear-closed","filled":true,"color":"#c9de4c","strokeWidth":0,"clip":true},
"encoding":{"x":{"field":"lon","type":"quantitative","scale":{"domain":[90,-80],"nice":false,"zero":false},"axis":null},"y":{"field":"yr","type":"quantitative","scale":{"domain":[1895,2015],"nice":false,"zero":false,"reverse":true},"axis":null},"detail":{"field":"p"},"order":{"value":null}}},
{"data":{"name":"s5"},"mark":{"type":"line","interpolate":"linear-closed","color":"#505050","strokeWidth":1.7,"clip":true},
"encoding":{"x":{"field":"lon","type":"quantitative","scale":{"domain":[90,-80],"nice":false,"zero":false},"axis":null},"y":{"field":"yr","type":"quantitative","scale":{"domain":[1895,2015],"nice":false,"zero":false,"reverse":true},"axis":null},"detail":{"field":"p"},"order":{"value":null}}},
{"data":{"name":"s5"},"mark":{"type":"line","interpolate":"linear-closed","filled":true,"color":"#ece73c","strokeWidth":0,"clip":true},
"encoding":{"x":{"field":"lon","type":"quantitative","scale":{"domain":[90,-80],"nice":false,"zero":false},"axis":null},"y":{"field":"yr","type":"quantitative","scale":{"domain":[1895,2015],"nice":false,"zero":false,"reverse":true},"axis":null},"detail":{"field":"p"},"order":{"value":null}}},
{"data":{"name":"s7"},"mark":{"type":"line","interpolate":"linear-closed","color":"#505050","strokeWidth":1.7,"clip":true},
"encoding":{"x":{"field":"lon","type":"quantitative","scale":{"domain":[90,-80],"nice":false,"zero":false},"axis":null},"y":{"field":"yr","type":"quantitative","scale":{"domain":[1895,2015],"nice":false,"zero":false,"reverse":true},"axis":null},"detail":{"field":"p"},"order":{"value":null}}},
{"data":{"name":"s7"},"mark":{"type":"line","interpolate":"linear-closed","filled":true,"color":"#e5262a","strokeWidth":0,"clip":true},
"encoding":{"x":{"field":"lon","type":"quantitative","scale":{"domain":[90,-80],"nice":false,"zero":false},"axis":null},"y":{"field":"yr","type":"quantitative","scale":{"domain":[1895,2015],"nice":false,"zero":false,"reverse":true},"axis":null},"detail":{"field":"p"},"order":{"value":null}}},
{"data":{"name":"s8"},"mark":{"type":"line","interpolate":"linear-closed","color":"#3a1212","strokeWidth":1.7,"clip":true},
"encoding":{"x":{"field":"lon","type":"quantitative","scale":{"domain":[90,-80],"nice":false,"zero":false},"axis":null},"y":{"field":"yr","type":"quantitative","scale":{"domain":[1895,2015],"nice":false,"zero":false,"reverse":true},"axis":null},"detail":{"field":"p"},"order":{"value":null}}},
{"data":{"name":"s8"},"mark":{"type":"line","interpolate":"linear-closed","filled":true,"color":"#5a1f1f","strokeWidth":0,"clip":true},
"encoding":{"x":{"field":"lon","type":"quantitative","scale":{"domain":[90,-80],"nice":false,"zero":false},"axis":null},"y":{"field":"yr","type":"quantitative","scale":{"domain":[1895,2015],"nice":false,"zero":false,"reverse":true},"axis":null},"detail":{"field":"p"},"order":{"value":null}}},
{"data":{"name":"s9"},"mark":{"type":"line","interpolate":"linear-closed","color":"#505050","strokeWidth":1.7,"clip":true},
"encoding":{"x":{"field":"lon","type":"quantitative","scale":{"domain":[90,-80],"nice":false,"zero":false},"axis":null},"y":{"field":"yr","type":"quantitative","scale":{"domain":[1895,2015],"nice":false,"zero":false,"reverse":true},"axis":null},"detail":{"field":"p"},"order":{"value":null}}},
{"data":{"name":"s9"},"mark":{"type":"line","interpolate":"linear-closed","filled":true,"color":"#62bb8c","strokeWidth":0,"clip":true},
"encoding":{"x":{"field":"lon","type":"quantitative","scale":{"domain":[90,-80],"nice":false,"zero":false},"axis":null},"y":{"field":"yr","type":"quantitative","scale":{"domain":[1895,2015],"nice":false,"zero":false,"reverse":true},"axis":null},"detail":{"field":"p"},"order":{"value":null}}},
{"data":{"name":"s10"},"mark":{"type":"line","interpolate":"linear-closed","color":"#505050","strokeWidth":1.7,"clip":true},
"encoding":{"x":{"field":"lon","type":"quantitative","scale":{"domain":[90,-80],"nice":false,"zero":false},"axis":null},"y":{"field":"yr","type":"quantitative","scale":{"domain":[1895,2015],"nice":false,"zero":false,"reverse":true},"axis":null},"detail":{"field":"p"},"order":{"value":null}}},
{"data":{"name":"s10"},"mark":{"type":"line","interpolate":"linear-closed","filled":true,"color":"#d5eef1","strokeWidth":0,"clip":true},
"encoding":{"x":{"field":"lon","type":"quantitative","scale":{"domain":[90,-80],"nice":false,"zero":false},"axis":null},"y":{"field":"yr","type":"quantitative","scale":{"domain":[1895,2015],"nice":false,"zero":false,"reverse":true},"axis":null},"detail":{"field":"p"},"order":{"value":null}}},
{"data":{"name":"s11"},"mark":{"type":"line","interpolate":"linear-closed","color":"#505050","strokeWidth":1.7,"clip":true},
"encoding":{"x":{"field":"lon","type":"quantitative","scale":{"domain":[90,-80],"nice":false,"zero":false},"axis":null},"y":{"field":"yr","type":"quantitative","scale":{"domain":[1895,2015],"nice":false,"zero":false,"reverse":true},"axis":null},"detail":{"field":"p"},"order":{"value":null}}},
{"data":{"name":"s11"},"mark":{"type":"line","interpolate":"linear-closed","filled":true,"color":"#ffffff","strokeWidth":0,"clip":true},
"encoding":{"x":{"field":"lon","type":"quantitative","scale":{"domain":[90,-80],"nice":false,"zero":false},"axis":null},"y":{"field":"yr","type":"quantitative","scale":{"domain":[1895,2015],"nice":false,"zero":false,"reverse":true},"axis":null},"detail":{"field":"p"},"order":{"value":null}}},
{"data":{"values":[{"yr":1905.5,"lon":172.65,"lon2":-75.9},{"yr":1948.4,"lon":172.65,"lon2":-74.7},{"yr":1979.3,"lon":172.65,"lon2":-70.8},{"yr":2002.8,"lon":172.65,"lon2":-70.8}]},
"mark":{"type":"rule","color":"#2c2a78","strokeWidth":4.2,"strokeDash":[22,13],"clip":false},
"encoding":{"x":{"field":"lon","type":"quantitative","scale":{"domain":[90,-80],"nice":false,"zero":false},"axis":null},"x2":{"field":"lon2"},"y":{"field":"yr","type":"quantitative","scale":{"domain":[1895,2015],"nice":false,"zero":false,"reverse":true},"axis":null}}},
{"data":{"name":"cbar"},"mark":{"type":"rect","clip":false},
"encoding":{
"x":{"datum":0,"type":"quantitative","scale":{"domain":[-12.02,-0.6662],"nice":false,"zero":false},"axis":null},
"x2":{"datum":1},
"y":{"field":"lo","type":"quantitative","scale":{"domain":[0.3122,2.596],"nice":false,"zero":false},"axis":{"orient":"right","offset":108.3,"values":[0.5,1,1.5,2,2.5],"labelExpr":"'' + datum.value","ticks":false,"domain":false,"grid":false,"labelFont":"Liberation Sans","labelFontSize":18.5,"labelColor":"#222222","labelPadding":5,"labelFlush":false,"labelOverlap":false,"title":null}},
"y2":{"field":"hi"},
"color":{"field":"lo","type":"quantitative","legend":null,"scale":{"domain":[0,0.25,0.33,0.4,0.45,0.5,0.55,0.65,0.8,0.95,1.05,1.2,1.3,1.37,1.42,1.5,1.7,1.78,1.85,1.92,1.98,2.03,2.3,2.35,2.42,2.5,2.56,2.6],"range":["#e6f7f8","#b8e6ec","#98dce2","#70cdd0","#62c4ac","#5fbd82","#64bb55","#6cbb3e","#74be3c","#8cc63c","#a4cf3e","#c2da48","#d2e060","#e2e474","#e4e65e","#ebe83a","#eee62c","#f0cc24","#f2a424","#f07a22","#ec4424","#e92a28","#e9282a","#d42a2c","#a82a2c","#862a2a","#6a2424","#4a1c1c"]}}
}},
{"data":{"values":[{"lo":0,"hi":2.596}]},"mark":{"type":"rect","clip":false,"fill":null,"stroke":"#444444","strokeWidth":1},
"encoding":{
"x":{"datum":0,"type":"quantitative","scale":{"domain":[-12.02,-0.6662],"nice":false,"zero":false},"axis":null},
"x2":{"datum":1},
"y":{"field":"lo","type":"quantitative","scale":{"domain":[0.3122,2.596],"nice":false,"zero":false},"axis":{"orient":"right","offset":43.3,"values":[0.5,1,1.5,2,2.5],"labels":false,"tickSize":6,"tickColor":"#333333","tickWidth":1,"domain":false,"grid":false,"title":null,"zindex":1}},
"y2":{"field":"hi"}
}},
{"data":{"values":[{"lo":0,"hi":2.596}]},"mark":{"type":"rect","opacity":0,"clip":false},
"encoding":{
"x":{"datum":0,"type":"quantitative","scale":{"domain":[-12.02,-0.6662],"nice":false,"zero":false},"axis":null},
"x2":{"datum":1},
"y":{"field":"lo","type":"quantitative","scale":{"domain":[0.3122,2.596],"nice":false,"zero":false},"axis":{"orient":"right","offset":108.3,"values":[0.5,1,1.5,2,2.5],"labels":false,"tickSize":-6,"tickColor":"#333333","tickWidth":1,"domain":false,"grid":false,"title":null,"zindex":1}},
"y2":{"field":"hi"}
}}
]
}
]
}
